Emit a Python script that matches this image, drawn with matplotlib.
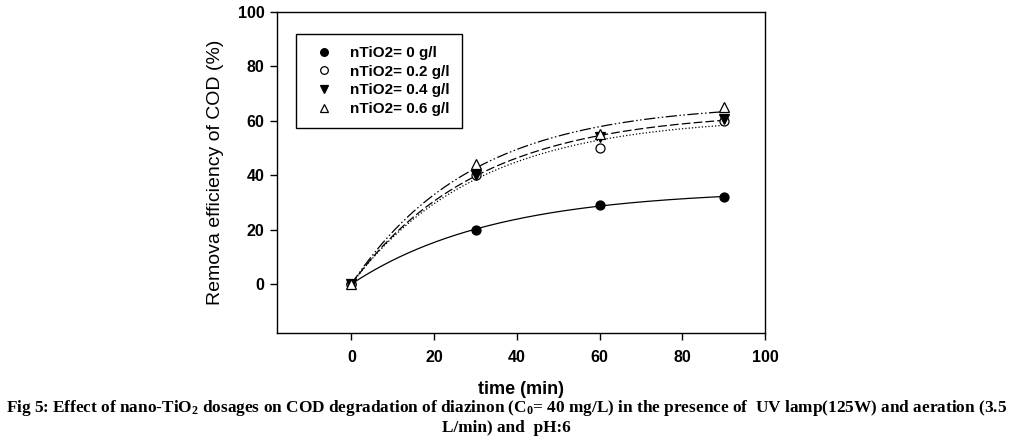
import numpy as np
import matplotlib
matplotlib.use("Agg")
import matplotlib.pyplot as plt

plt.rcParams['font.family'] = ['Liberation Sans', 'DejaVu Sans']
plt.rcParams['mathtext.fontset'] = 'custom'
plt.rcParams['mathtext.rm'] = 'Liberation Serif:bold'
plt.rcParams['mathtext.it'] = 'Liberation Serif:bold'
plt.rcParams['mathtext.bf'] = 'Liberation Serif:bold'

# datos
tiempo = [0, 30, 60, 90]
rem_0 = [0, 20, 29, 32]
rem_02 = [0, 40, 50, 60]
rem_04 = [0, 40, 54, 60.5]
rem_06 = [0, 44, 55, 65]
etiquetas = ["nTiO2= 0 g/l", "nTiO2= 0.2 g/l", "nTiO2= 0.4 g/l", "nTiO2= 0.6 g/l"]


def ajuste_exp(t, y):
    # y = a*(1-exp(-b t)), busqueda simple en b
    t = np.asarray(t, float)
    y = np.asarray(y, float)
    mejor = None
    for b in np.linspace(0.002, 0.2, 2000):
        f = 1 - np.exp(-b * t)
        a = np.dot(f, y) / np.dot(f, f)
        err = np.sum((a * f - y) ** 2)
        if mejor is None or err < mejor[0]:
            mejor = (err, a, b)
    return mejor[1], mejor[2]


series = [
    (rem_0, 'o', 'black', '-'),
    (rem_02, 'o', 'white', ':'),
    (rem_04, 'v', 'black', (0, (7, 2.5))),
    (rem_06, '^', 'white', (0, (9, 2, 1.2, 2, 1.2, 2))),
]

fig = plt.figure(figsize=(10.13, 4.46), dpi=100)
ax = fig.add_axes([277 / 1013, 1 - 333 / 446, (765 - 277) / 1013, (333 - 12) / 446])

tt = np.linspace(0, 90, 300)
for (datos, marca, relleno, estilo), lab in zip(series, etiquetas):
    a, b = ajuste_exp(tiempo, datos)
    ax.plot(tt, a * (1 - np.exp(-b * tt)), color='black', linestyle=estilo, linewidth=0.9)
for (datos, marca, relleno, estilo), lab in zip(series, etiquetas):
    ax.plot(tiempo, datos, linestyle='none', marker=marca, markersize=6.5,
            markerfacecolor=relleno, markeredgecolor='black', markeredgewidth=0.9,
            label=lab)

ax.set_xlim(-18, 100)
ax.set_ylim(-18, 100)
ax.set_xticks([0, 20, 40, 60, 80, 100])
ax.set_yticks([0, 20, 40, 60, 80, 100])
ax.tick_params(direction='out', length=5, width=1, labelsize=11.5)
ax.tick_params(axis='x', pad=7)
ax.tick_params(axis='y', pad=4)
for lbl in ax.get_xticklabels() + ax.get_yticklabels():
    lbl.set_fontweight('bold')
for s in ax.spines.values():
    s.set_linewidth(1)

ax.set_xlabel('time (min)', fontsize=13, fontweight='bold', labelpad=12)
ax.set_ylabel('Remova efficiency of COD (%)', fontsize=14, labelpad=10)

leg = ax.legend(loc='upper left', bbox_to_anchor=(296 / 1013, 1 - 34 / 446),
                bbox_transform=fig.transFigure, borderaxespad=0,
                fancybox=False, edgecolor='black', framealpha=1,
                prop={'weight': 'bold', 'size': 11}, handletextpad=0.73,
                labelspacing=0.3, borderpad=0.8, handlelength=2.0,
                markerscale=0.85)
leg.get_frame().set_linewidth(1)

fig.text(0.5, 1 - 408 / 446,
         'Fig 5: Effect of nano-TiO$_2$ dosages on COD degradation of diazinon (C$_0$= 40 mg/L) in the presence of  UV lamp(125W) and aeration (3.5',
         ha='center', va='center', family='Liberation Serif', fontweight='bold', fontsize=12.4)
fig.text(0.5, 1 - 428 / 446, 'L/min) and  pH:6',
         ha='center', va='center', family='Liberation Serif', fontweight='bold', fontsize=12.4)

fig.savefig('out.png', dpi=100)
